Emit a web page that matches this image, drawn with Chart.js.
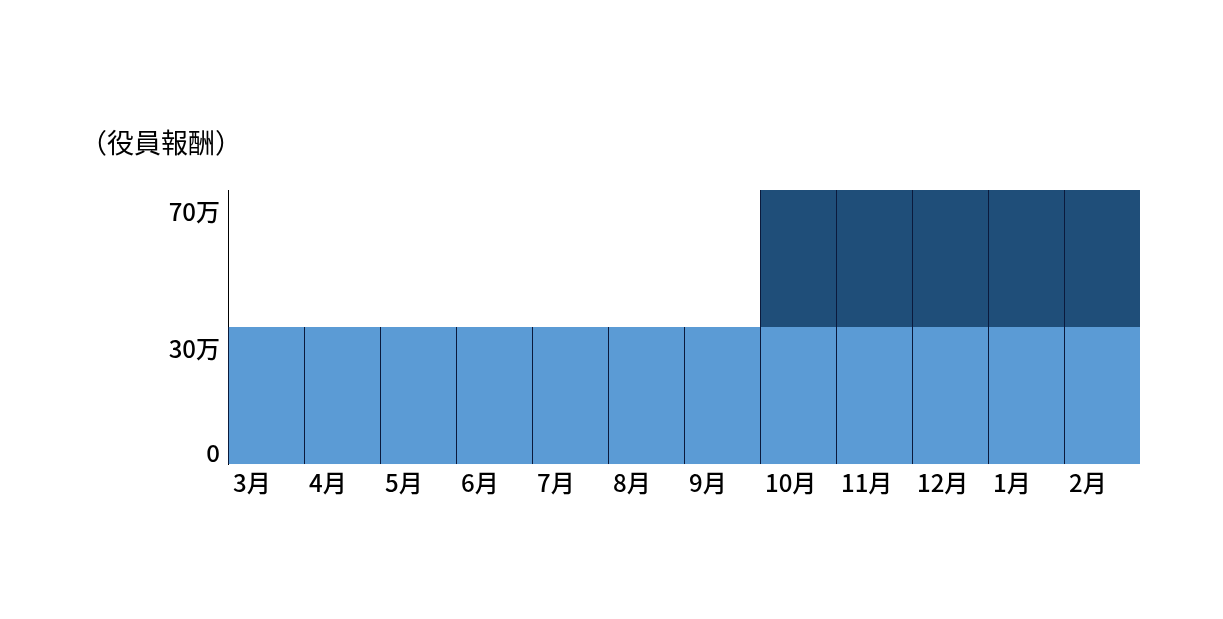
<!DOCTYPE html>
<html>
<head>
<meta charset="utf-8">
<script src="https://cdn.jsdelivr.net/npm/chart.js@4/dist/chart.umd.min.js"></script>
<style>
  html, body { margin: 0; padding: 0; background: #fff; }
  #wrap { width: 1223px; height: 619px; }
</style>
</head>
<body>
<div id="wrap"><canvas id="myChart"></canvas></div>
<script>
// 単位: 万円
var months = ['3月', '4月', '5月', '6月', '7月', '8月', '9月', '10月', '11月', '12月', '1月', '2月'];
var baseFee = [30, 30, 30, 30, 30, 30, 30, 30, 30, 30, 30, 30];
var raisedFee = [null, null, null, null, null, null, null, 40, 40, 40, 40, 40];
var yTicks = [0, 30, 70];

var FONT = '"Noto Sans CJK JP", "Noto Sans", sans-serif';

// 元の図は目盛りが等間隔ではない (0 / 30万 / 70万 が 下端 / 中央 / 上端)
var knots = [0, 30, 70];
var fracs = [0, 0.5, 1];

function toFrac(v) {
    for (var i = 1; i < knots.length; i++) {
        if (v <= knots[i] || i == knots.length - 1) {
            return fracs[i - 1] + (v - knots[i - 1]) / (knots[i] - knots[i - 1]) * (fracs[i] - fracs[i - 1]);
        }
    }
}
function fromFrac(f) {
    for (var i = 1; i < fracs.length; i++) {
        if (f <= fracs[i] || i == fracs.length - 1) {
            return knots[i - 1] + (f - fracs[i - 1]) / (fracs[i] - fracs[i - 1]) * (knots[i] - knots[i - 1]);
        }
    }
}

class StepScale extends Chart.LinearScale {
    getPixelForValue(value) {
        if (value === null || value === undefined) return NaN;
        return this.getPixelForDecimal(toFrac(value));
    }
    getValueForPixel(pixel) {
        return fromFrac(this.getDecimalForPixel(pixel));
    }
}
StepScale.id = 'stepscale';
StepScale.defaults = Chart.LinearScale.defaults;
Chart.register(StepScale);

var ctx = document.getElementById('myChart');
var myChart = new Chart(ctx, {
    type: 'bar',
    data: {
        labels: months,
        datasets: [{
            label: '役員報酬',
            data: baseFee,
            backgroundColor: '#5b9bd5',
            borderColor: '#0b1a3c',
            borderWidth: { left: 1, right: 0, top: 0, bottom: 0 },
            borderSkipped: false,
            inflateAmount: 0,
            categoryPercentage: 1,
            barPercentage: 1
        }, {
            label: '増額分',
            data: raisedFee,
            backgroundColor: '#1f4e79',
            borderColor: '#0b1a3c',
            borderWidth: { left: 1, right: 0, top: 0, bottom: 0 },
            borderSkipped: false,
            inflateAmount: 0,
            categoryPercentage: 1,
            barPercentage: 1
        }]
    },
    options: {
        responsive: true,
        maintainAspectRatio: false,
        animation: false,
        layout: {
            padding: { left: 80, top: 127, right: 83, bottom: 118 }
        },
        plugins: {
            legend: { display: false },
            tooltip: { enabled: false },
            title: {
                display: true,
                text: '（役員報酬）',
                align: 'start',
                color: '#000',
                font: { family: FONT, size: 27, weight: 'normal', lineHeight: 1.2 },
                padding: { top: 0, bottom: 30.6 }
            }
        },
        scales: {
            x: {
                stacked: true,
                grid: { display: false, drawTicks: false },
                border: { display: false },
                ticks: {
                    color: '#000',
                    font: { family: FONT, size: 24, weight: 500, lineHeight: 1.2 },
                    align: 'start',
                    labelOffset: -33,
                    padding: 4,
                    autoSkip: false,
                    maxRotation: 0
                }
            },
            y: {
                type: 'stepscale',
                stacked: true,
                min: 0,
                max: 70,
                grid: { display: false, drawTicks: false },
                border: { display: true, color: '#000', width: 1 },
                afterFit: function (scale) { scale.width = 148; },
                afterBuildTicks: function (scale) {
                    scale.ticks = yTicks.map(function (v) { return { value: v }; });
                },
                ticks: {
                    color: '#000',
                    font: { family: FONT, size: 24, weight: 500, lineHeight: 0.92 },
                    padding: 8,
                    callback: function (value) {
                        if (value === 0) return ['0', ''];
                        return ['', '', value + '万'];
                    }
                }
            }
        }
    }
});
</script>
</body>
</html>
